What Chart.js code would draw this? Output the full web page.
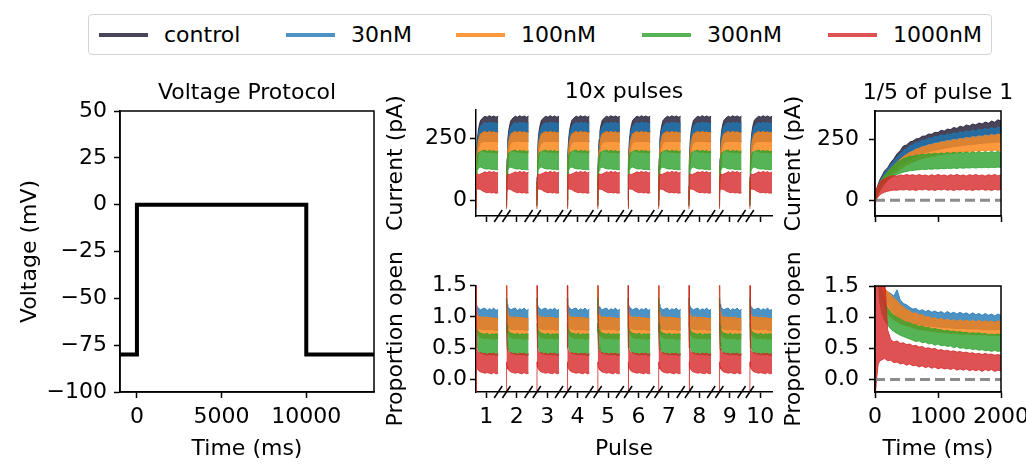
<!DOCTYPE html>
<html>
<head>
<meta charset="utf-8">
<script src="https://cdn.jsdelivr.net/npm/chart.js@4.4.1/dist/chart.umd.min.js"></script>
<style>
  body { margin: 0; background: #fff; }
  #fig { position: relative; width: 1026px; height: 468px; overflow: hidden; font-family: "DejaVu Sans", sans-serif; }
  #fig canvas { position: absolute; }
  #legend { position: absolute; left: 88px; top: 14px; width: 902px; height: 39px; border: 1px solid #d4d4d4; border-radius: 4px; }
  #legend .swatch { position: absolute; top: 18px; width: 49px; height: 4px; }
  #legend .label { position: absolute; top: 0; line-height: 39px; font-size: 22px; color: #000; white-space: nowrap; }
</style>
</head>
<body>
<div id="fig"><div id="legend"></div></div>
<script>
// ---- series ----
const SERIES = ['control', '30nM', '100nM', '300nM', '1000nM'];
const SERIES_RGB = ['29,21,47', '31,119,180', '255,127,14', '44,160,44', '214,39,40'];

// ---- voltage protocol ----
const PROTOCOL_T = [-1000, 0, 0, 10000, 10000, 14000];
const PROTOCOL_MV = [-80, -80, 0, 0, -80, -80];
const VOLT_TICKS_X = [0, 5000, 10000];
const VOLT_TICKS_Y = [-100, -75, -50, -25, 0, 25, 50];

// ---- 10x pulses: one profile per band, repeated for every pulse ----
const PULSES = [1, 2, 3, 4, 5, 6, 7, 8, 9, 10];
const PULSE_FRAC = [0, 0.005, 0.01, 0.03, 0.06, 0.1, 0.15, 0.2, 0.3, 0.4, 0.5, 0.6, 0.7, 0.8, 0.9, 1];
// current (pA), rows: control, 30nM, 100nM, 300nM, 1000nM
const PULSE_CUR_HI = [
  [0, 60, 95, 170, 245, 280, 305, 322, 333, 340, 336, 342, 337, 341, 336, 340],
  [0, 55, 90, 160, 228, 262, 284, 297, 308, 314, 309, 316, 311, 315, 309, 313],
  [0, 50, 85, 150, 203, 235, 255, 268, 274, 278, 273, 279, 274, 277, 272, 276],
  [0, 45, 78, 140, 178, 190, 195, 198, 200, 203, 197, 202, 198, 201, 196, 200],
  [0, 55, 75, 102, 106, 105, 104, 106, 110, 115, 111, 117, 112, 116, 110, 114]
];
const PULSE_CUR_LO = [
  [-20, 40, 75, 140, 200, 232, 252, 264, 272, 276, 275, 278, 276, 277, 275, 276],
  [-20, 35, 65, 128, 175, 205, 222, 232, 236, 238, 237, 239, 237, 238, 236, 237],
  [-25, 25, 50, 110, 158, 182, 196, 203, 200, 196, 193, 195, 192, 194, 191, 192],
  [-25, 20, 45, 95, 120, 128, 132, 134, 130, 127, 126, 127, 124, 125, 123, 124],
  [-35, 10, 25, 42, 45, 45, 44, 43, 37, 33, 30, 32, 29, 31, 28, 30]
];
// proportion open, rows: 30nM, 100nM, 300nM, 1000nM
const PULSE_OPEN_HI = [
  [1.6, 1.6, 1.32, 1.2, 1.16, 1.14, 1.13, 1.11, 1.13, 1.14, 1.1, 1.13, 1.11, 1.14, 1.1, 1.12],
  [1.5, 1.5, 1.25, 1.08, 1.03, 1.01, 1.0, 0.99, 1.0, 0.98, 1.0, 0.98, 0.99, 0.98, 0.97, 0.98],
  [1.3, 1.3, 1.05, 0.86, 0.8, 0.77, 0.75, 0.74, 0.73, 0.72, 0.74, 0.71, 0.73, 0.72, 0.73, 0.72],
  [3, 3, 3, 0.5, 0.46, 0.44, 0.42, 0.43, 0.41, 0.42, 0.4, 0.42, 0.41, 0.42, 0.4, 0.41]
];
const PULSE_OPEN_LO = [
  [1.3, 1.3, 1.05, 0.9, 0.85, 0.82, 0.81, 0.8, 0.8, 0.79, 0.8, 0.79, 0.8, 0.79, 0.78, 0.79],
  [1.2, 1.2, 1.0, 0.82, 0.74, 0.7, 0.68, 0.67, 0.66, 0.65, 0.66, 0.65, 0.66, 0.64, 0.65, 0.65],
  [0.9, 0.9, 0.75, 0.6, 0.52, 0.47, 0.44, 0.42, 0.41, 0.4, 0.39, 0.4, 0.39, 0.4, 0.38, 0.39],
  [-0.5, -0.5, 0.28, 0.2, 0.17, 0.15, 0.13, 0.12, 0.11, 0.1, 0.11, 0.1, 0.09, 0.11, 0.09, 0.1]
];

// ---- first 2000 ms of pulse 1 ----
const ZOOM_T = [0, 10, 25, 50, 75, 100, 150, 200, 250, 300, 350, 400, 450, 500, 550, 600, 650, 700, 750, 800,
  850, 900, 950, 1000, 1050, 1100, 1150, 1200, 1250, 1300, 1350, 1400, 1450, 1500, 1550, 1600, 1650, 1700,
  1750, 1800, 1850, 1900, 1950, 2000];
const ZOOM_CUR_HI = [
  [5, 22, 44, 66, 83, 95, 120, 133, 155, 170, 190, 203, 222, 226, 238, 242, 251, 253, 262, 263, 271, 270, 278,
    277, 286, 283, 291, 289, 298, 294, 303, 299, 308, 304, 312, 308, 316, 312, 320, 315, 324, 319, 329, 324],
  [4, 20, 40, 60, 77, 89, 112, 128, 146, 161, 176, 190, 203, 210, 222, 226, 236, 237, 246, 246, 254, 253, 261,
    259, 267, 264, 271, 268, 276, 272, 280, 276, 284, 279, 288, 282, 291, 286, 294, 289, 297, 291, 300, 295],
  [3, 18, 36, 55, 70, 82, 100, 115, 130, 143, 156, 168, 178, 186, 196, 200, 209, 211, 219, 219, 227, 226, 233,
    232, 239, 237, 244, 241, 249, 245, 253, 249, 257, 252, 261, 255, 264, 258, 267, 261, 270, 263, 272, 266],
  [2, 18, 36, 55, 70, 81, 100, 115, 130, 142, 155, 162, 170, 174, 180, 179, 185, 183, 189, 186, 191, 188, 193,
    189, 194, 190, 196, 191, 197, 192, 197, 193, 198, 193, 198, 194, 199, 194, 199, 195, 200, 195, 200, 196],
  [0, 25, 45, 62, 72, 80, 88, 94, 98, 101, 99, 104, 101, 106, 102, 105, 100, 106, 101, 104, 99, 105, 100,
    106, 101, 104, 99, 105, 101, 106, 100, 104, 99, 105, 101, 106, 100, 104, 99, 105, 101, 106, 100, 104]
];
const ZOOM_CUR_LO = [
  [-5, 12, 30, 48, 64, 75, 95, 110, 128, 142, 158, 170, 183, 192, 200, 207, 213, 218, 223, 227, 231, 234, 238,
    240, 243, 246, 248, 250, 253, 254, 256, 258, 260, 261, 263, 264, 266, 267, 268, 270, 271, 272, 273, 274],
  [-5, 8, 24, 40, 54, 64, 82, 96, 110, 122, 134, 144, 153, 161, 168, 174, 180, 185, 190, 194, 198, 201, 205,
    207, 210, 213, 215, 217, 220, 221, 223, 225, 226, 228, 229, 230, 232, 233, 234, 235, 236, 237, 238, 238],
  [-8, 5, 16, 30, 42, 52, 70, 84, 95, 109, 117, 130, 135, 146, 149, 158, 161, 168, 169, 175, 176, 181, 181,
    186, 185, 190, 189, 193, 192, 196, 194, 199, 196, 201, 198, 203, 199, 204, 201, 205, 202, 206, 203, 206],
  [-8, 2, 12, 25, 38, 48, 66, 80, 92, 100, 106, 111, 115, 118, 121, 122, 124, 125, 127, 126, 128, 127, 129,
    128, 130, 129, 131, 130, 132, 130, 133, 131, 133, 132, 134, 132, 134, 133, 135, 133, 135, 134, 136, 134],
  [-15, -5, 5, 14, 22, 27, 33, 37, 40, 42, 41, 44, 42, 45, 41, 44, 40, 45, 42, 46, 41, 44, 40,
    45, 42, 46, 41, 44, 40, 45, 42, 46, 41, 44, 40, 45, 42, 46, 41, 44, 40, 45, 42, 44]
];
const ZOOM_OPEN_HI = [
  [3, 3, 3, 3, 3, 2.2, 1.46, 1.41, 1.38, 1.34, 1.44, 1.28, 1.22, 1.2, 1.16, 1.13, 1.14, 1.1, 1.12, 1.09, 1.11,
    1.08, 1.1, 1.07, 1.09, 1.06, 1.09, 1.06, 1.08, 1.05, 1.08, 1.05, 1.07, 1.04, 1.07, 1.04, 1.06, 1.03, 1.06,
    1.03, 1.05, 1.02, 1.05, 1.03],
  [3, 3, 3, 3, 3, 2.2, 1.46, 1.41, 1.36, 1.3, 1.26, 1.2, 1.16, 1.12, 1.1, 1.06, 1.07, 1.03, 1.04, 1.0, 1.01,
    0.98, 0.99, 0.96, 0.98, 0.95, 0.97, 0.94, 0.96, 0.93, 0.96, 0.93, 0.95, 0.93, 0.95, 0.92, 0.95, 0.92, 0.94,
    0.92, 0.94, 0.91, 0.94, 0.92],
  [3, 3, 3, 3, 1.6, 1.45, 1.25, 1.15, 1.08, 1.03, 1.0, 0.97, 0.94, 0.92, 0.91, 0.88, 0.88, 0.85, 0.86, 0.83,
    0.84, 0.81, 0.82, 0.8, 0.8, 0.78, 0.79, 0.77, 0.78, 0.76, 0.77, 0.75, 0.76, 0.74, 0.75, 0.74, 0.75, 0.73,
    0.74, 0.72, 0.73, 0.72, 0.73, 0.72],
  [1.8, 1.8, 1.8, 1.8, 1.8, 1.8, 1.7, 0.8, 0.64, 0.6, 0.62, 0.58, 0.59, 0.56, 0.57, 0.54, 0.55, 0.52, 0.53,
    0.5, 0.51, 0.49, 0.5, 0.47, 0.48, 0.46, 0.47, 0.45, 0.46, 0.44, 0.45, 0.43, 0.44, 0.42, 0.43, 0.41, 0.42,
    0.4, 0.42, 0.4, 0.41, 0.39, 0.4, 0.39]
];
const ZOOM_OPEN_LO = [
  [3, 3, 3, 3, 3, 2.0, 1.3, 1.2, 1.12, 1.06, 1.01, 0.98, 0.95, 0.93, 0.91, 0.9, 0.89, 0.88, 0.87, 0.86, 0.86,
    0.85, 0.85, 0.84, 0.84, 0.83, 0.83, 0.83, 0.82, 0.82, 0.82, 0.82, 0.81, 0.81, 0.81, 0.81, 0.81, 0.8, 0.8,
    0.8, 0.8, 0.8, 0.8, 0.8],
  [3, 3, 3, 2.5, 1.8, 1.3, 1.15, 1.06, 1.0, 0.96, 0.93, 0.9, 0.88, 0.86, 0.85, 0.83, 0.82, 0.8, 0.8, 0.79,
    0.78, 0.78, 0.77, 0.76, 0.76, 0.75, 0.75, 0.74, 0.74, 0.74, 0.73, 0.73, 0.73, 0.73, 0.72, 0.72, 0.72, 0.72,
    0.72, 0.71, 0.71, 0.71, 0.71, 0.71],
  [3, 3, 2.5, 1.6, 1.25, 1.1, 0.95, 0.88, 0.81, 0.77, 0.74, 0.71, 0.69, 0.67, 0.65, 0.63, 0.61, 0.62, 0.59,
    0.6, 0.57, 0.58, 0.55, 0.57, 0.54, 0.55, 0.53, 0.54, 0.51, 0.53, 0.5, 0.51, 0.49, 0.5, 0.48, 0.49, 0.47,
    0.48, 0.46, 0.47, 0.45, 0.47, 0.45, 0.46],
  [-0.3, -0.3, 0.0, 0.24, 0.3, 0.31, 0.34, 0.3, 0.31, 0.27, 0.28, 0.25, 0.26, 0.23, 0.25, 0.22, 0.23, 0.2,
    0.22, 0.19, 0.21, 0.18, 0.2, 0.17, 0.19, 0.17, 0.18, 0.16, 0.18, 0.15, 0.17, 0.15, 0.17, 0.14, 0.16, 0.14,
    0.16, 0.13, 0.16, 0.14, 0.16, 0.13, 0.15, 0.14]
];
const ZOOM_TICKS_X = [0, 1000, 2000];
const CURRENT_TICKS = [0, 250];
const OPEN_TICKS = [0, 0.5, 1, 1.5];

// ---- drawing ----
Chart.defaults.font.family = "'DejaVu Sans', sans-serif";
Chart.defaults.font.size = 22;
Chart.defaults.color = '#000';

const INK = '#000';
const AXIS_W = 1.5;
const FILL_ALPHA = 0.8;
const SEG_START = -0.34;   // where a pulse segment begins, relative to its tick
const SEG_SPAN = 0.73;     // width of a pulse segment in pulse units
const BREAK_OFFSETS = [0.39, 0.66];

function rgba(k, a) { return 'rgba(' + SERIES_RGB[k] + ',' + a + ')'; }

function band(k, xs, hi, lo) {
  const c = rgba(k, FILL_ALPHA);
  const style = { borderColor: c, backgroundColor: c, borderWidth: 1, pointRadius: 0, tension: 0, order: 10 - k };
  return [
    Object.assign({ data: xs.map((x, i) => ({ x: x, y: hi[i] })), fill: '+1' }, style),
    Object.assign({ data: xs.map((x, i) => ({ x: x, y: lo[i] })), fill: false }, style)
  ];
}

function pulseBands(hiRows, loRows, firstSeries) {
  const out = [];
  hiRows.forEach((hi, r) => {
    PULSES.forEach(p => {
      const xs = PULSE_FRAC.map(f => p + SEG_START + f * SEG_SPAN);
      out.push(...band(firstSeries + r, xs, hi, loRows[r]));
    });
  });
  return out;
}

function zoomBands(hiRows, loRows, firstSeries) {
  const out = [];
  hiRows.forEach((hi, r) => out.push(...band(firstSeries + r, ZOOM_T, hi, loRows[r])));
  out.push({
    data: [{ x: ZOOM_T[0], y: 0 }, { x: ZOOM_T[ZOOM_T.length - 1], y: 0 }],
    borderColor: 'rgba(128,128,128,0.9)', borderWidth: 3, borderDash: [10, 5],
    pointRadius: 0, fill: false, order: 0
  });
  return out;
}

const fmtPlain = v => String(v).replace('-', '\u2212');
const fmtOne = v => v.toFixed(1);

function axis(s, dir, size) {
  return {
    type: 'linear', min: s.min, max: s.max,
    afterBuildTicks: sc => { sc.ticks = s.ticks.map(v => ({ value: v })); },
    afterFit: sc => {
      if (dir === 'x') sc.height = size; else sc.width = size;
      sc.paddingLeft = sc.paddingRight = sc.paddingTop = sc.paddingBottom = 0;
    },
    ticks: { display: s.labels !== false, autoSkip: false, maxRotation: 0, padding: s.pad || 6, callback: s.fmt },
    grid: { display: true, drawOnChartArea: false, drawTicks: true, tickLength: 6, tickWidth: AXIS_W, tickColor: INK },
    border: { display: true, color: INK, width: AXIS_W },
    title: { display: !!s.title, text: s.title || '', padding: s.titlePad || 0 }
  };
}

function framePlugin(p) {
  return {
    id: 'frame',
    afterDraw(chart) {
      const ctx = chart.ctx, ca = chart.chartArea;
      ctx.save();
      ctx.strokeStyle = INK;
      ctx.lineWidth = AXIS_W;
      if (p.boxed) ctx.strokeRect(ca.left, ca.top, ca.right - ca.left, ca.bottom - ca.top);
      if (p.breaks) {
        const xs = chart.scales.x;
        ctx.beginPath();
        PULSES.slice(0, -1).forEach(n => {
          BREAK_OFFSETS.forEach(off => {
            const x = xs.getPixelForValue(n + off);
            ctx.moveTo(x - 4, ca.bottom + 6);
            ctx.lineTo(x + 4, ca.bottom - 6);
          });
        });
        ctx.stroke();
      }
      ctx.fillStyle = INK;
      ctx.font = "22px 'DejaVu Sans', sans-serif";
      ctx.textAlign = 'center';
      ctx.textBaseline = 'alphabetic';
      ctx.fillText(p.title, (ca.left + ca.right) / 2, ca.top - 12.5);
      ctx.restore();
    }
  };
}

function panel(p) {
  const [bx, by, bw, bh] = p.box;
  const [al, at, ar, ab] = p.area;
  const cv = document.createElement('canvas');
  cv.width = bw; cv.height = bh;
  cv.style.left = bx + 'px';
  cv.style.top = by + 'px';
  document.getElementById('fig').appendChild(cv);
  return new Chart(cv, {
    type: 'line',
    data: { datasets: p.datasets },
    options: {
      responsive: false, animation: false, events: [],
      layout: { padding: { left: 0, top: at - by, right: bx + bw - ar, bottom: 0 } },
      plugins: { legend: { display: false }, tooltip: { enabled: false } },
      scales: { x: axis(p.x, 'x', by + bh - ab), y: axis(p.y, 'y', al - bx) }
    },
    plugins: [framePlugin(p)]
  });
}

// Voltage protocol
panel({
  title: 'Voltage Protocol', boxed: true,
  box: [0, 70, 390, 398], area: [120, 111, 374, 392],
  datasets: [{
    data: PROTOCOL_T.map((t, i) => ({ x: t, y: PROTOCOL_MV[i] })),
    borderColor: INK, borderWidth: 4, pointRadius: 0, fill: false, borderJoinStyle: 'miter'
  }],
  x: { min: -1000, max: 14000, ticks: VOLT_TICKS_X, fmt: fmtPlain, title: 'Time (ms)', titlePad: { top: 0, bottom: 6 } },
  y: { min: -100, max: 50, ticks: VOLT_TICKS_Y, fmt: fmtPlain, pad: 7, title: 'Voltage (mV)', titlePad: { top: 17, bottom: 0 } }
});

// 10x pulses, current
panel({
  title: '10x pulses', breaks: true,
  box: [376, 60, 410, 170], area: [476, 110, 772, 216],
  datasets: pulseBands(PULSE_CUR_HI, PULSE_CUR_LO, 0),
  x: { min: 0.66, max: 10.39, ticks: PULSES, labels: false },
  y: { min: -64, max: 365, ticks: CURRENT_TICKS, fmt: fmtPlain, pad: 3, title: 'Current (pA)', titlePad: { top: 7, bottom: 0 } }
});

// 10x pulses, proportion open
panel({
  title: '', breaks: true,
  box: [376, 240, 410, 228], area: [476, 285.5, 772, 392],
  datasets: pulseBands(PULSE_OPEN_HI, PULSE_OPEN_LO, 1),
  x: { min: 0.66, max: 10.39, ticks: PULSES, fmt: fmtPlain, title: 'Pulse', titlePad: { top: 0, bottom: 6 } },
  y: { min: -0.2, max: 1.5, ticks: OPEN_TICKS, fmt: fmtOne, pad: 3, title: 'Proportion open', titlePad: { top: 7, bottom: 0 } }
});

// first fifth of pulse 1, current
panel({
  title: '1/5 of pulse 1', boxed: true,
  box: [780, 60, 246, 170], area: [875, 111, 1001, 216],
  datasets: zoomBands(ZOOM_CUR_HI, ZOOM_CUR_LO, 0),
  x: { min: 0, max: 2000, ticks: ZOOM_TICKS_X, labels: false },
  y: { min: -64, max: 365, ticks: CURRENT_TICKS, fmt: fmtPlain, pad: 10, title: 'Current (pA)', titlePad: { top: 1.5, bottom: 0 } }
});

// first fifth of pulse 1, proportion open
panel({
  title: '', boxed: true,
  box: [780, 240, 246, 228], area: [875, 286, 1001, 392],
  datasets: zoomBands(ZOOM_OPEN_HI, ZOOM_OPEN_LO, 1),
  x: { min: 0, max: 2000, ticks: ZOOM_TICKS_X, fmt: fmtPlain, title: 'Time (ms)', titlePad: { top: 0, bottom: 6 } },
  y: { min: -0.2, max: 1.5, ticks: OPEN_TICKS, fmt: fmtOne, pad: 10, title: 'Proportion open', titlePad: { top: 1.5, bottom: 0 } }
});

// legend row
const LEGEND_X = [10, 197, 367, 553, 739];
const legend = document.getElementById('legend');
SERIES.forEach((name, k) => {
  const sw = document.createElement('div');
  sw.className = 'swatch';
  sw.style.left = LEGEND_X[k] + 'px';
  sw.style.background = rgba(k, FILL_ALPHA);
  legend.appendChild(sw);
  const lb = document.createElement('div');
  lb.className = 'label';
  lb.style.left = (LEGEND_X[k] + 65) + 'px';
  lb.textContent = name;
  legend.appendChild(lb);
});
</script>
</body>
</html>
